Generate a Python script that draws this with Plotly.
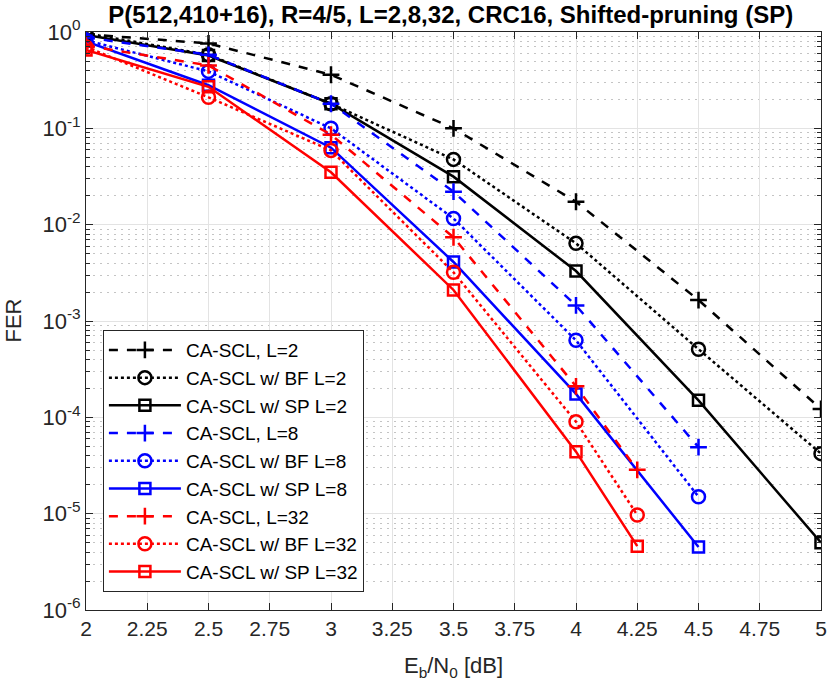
import plotly.graph_objects as go

# Eb/N0 points (dB)
snr_l2 = [2, 2.5, 3, 3.5, 4, 4.5, 5]
snr_l8 = [2, 2.5, 3, 3.5, 4, 4.5]
snr_l32 = [2, 2.5, 3, 3.5, 4, 4.25]

# FER, L=2
fer_scl_l2 = [0.95, 0.76, 0.36, 0.10, 0.0173, 1.65e-3, 1.22e-4]
fer_bf_l2 = [0.97, 0.58, 0.18, 0.0476, 0.0064, 5.1e-4, 4.2e-5]
fer_sp_l2 = [0.93, 0.57, 0.18, 0.0315, 0.0033, 1.5e-4, 5.0e-6]

# FER, L=8
fer_scl_l8 = [0.88, 0.58, 0.18, 0.022, 1.45e-3, 4.9e-5]
fer_bf_l8 = [0.82, 0.39, 0.10, 0.0116, 6.3e-4, 1.5e-5]
fer_sp_l8 = [0.80, 0.28, 0.063, 0.0041, 1.75e-4, 4.5e-6]

# FER, L=32
fer_scl_l32 = [0.72, 0.45, 0.086, 0.0074, 2.1e-4, 2.85e-5]
fer_bf_l32 = [0.70, 0.21, 0.059, 0.0032, 9.0e-5, 9.7e-6]
fer_sp_l32 = [0.65, 0.27, 0.035, 0.0021, 4.4e-5, 4.6e-6]

x_ticks = [2, 2.25, 2.5, 2.75, 3, 3.25, 3.5, 3.75, 4, 4.25, 4.5, 4.75, 5]
y_ticks = [1e-6, 1e-5, 1e-4, 1e-3, 1e-2, 1e-1, 1]
y_labels = ["10<sup>-6</sup>", "10<sup>-5</sup>", "10<sup>-4</sup>", "10<sup>-3</sup>",
            "10<sup>-2</sup>", "10<sup>-1</sup>", "10<sup>0</sup>"]

curves = [
    ("CA-SCL, L=2", snr_l2, fer_scl_l2, "black", "dash", "cross-thin-open"),
    ("CA-SCL w/ BF L=2", snr_l2, fer_bf_l2, "black", "dot", "circle-open"),
    ("CA-SCL w/ SP L=2", snr_l2, fer_sp_l2, "black", "solid", "square-open"),
    ("CA-SCL, L=8", snr_l8, fer_scl_l8, "blue", "dash", "cross-thin-open"),
    ("CA-SCL w/ BF L=8", snr_l8, fer_bf_l8, "blue", "dot", "circle-open"),
    ("CA-SCL w/ SP L=8", snr_l8, fer_sp_l8, "blue", "solid", "square-open"),
    ("CA-SCL, L=32", snr_l32, fer_scl_l32, "red", "dash", "cross-thin-open"),
    ("CA-SCL w/ BF L=32", snr_l32, fer_bf_l32, "red", "dot", "circle-open"),
    ("CA-SCL w/ SP L=32", snr_l32, fer_sp_l32, "red", "solid", "square-open"),
]
marker_size = {"cross-thin-open": 12, "circle-open": 13, "square-open": 11}

fig = go.Figure()
for name, x, y, col, dash, sym in curves:
    fig.add_trace(go.Scatter(
        x=x, y=y, name=name, mode="lines+markers",
        line=dict(color=col, width=2.5, dash=dash),
        marker=dict(symbol=sym, size=marker_size[sym], color=col,
                    line=dict(color=col, width=2.5)),
    ))

fig.update_layout(
    width=830, height=688,
    margin=dict(l=86, r=9, t=32, b=78),
    paper_bgcolor="white", plot_bgcolor="white",
    font=dict(family="Liberation Sans, Arial, sans-serif", size=22, color="#262626"),
    title=dict(text="<b>P(512,410+16), R=4/5, L=2,8,32, CRC16, Shifted-pruning (SP)</b>",
               x=0.543, xanchor="center", y=0.991, yanchor="top", pad=dict(t=0),
               font=dict(size=24, color="black")),
    legend=dict(x=0.023, y=0.031, xanchor="left", yanchor="bottom",
                bgcolor="white", bordercolor="#262626", borderwidth=1,
                font=dict(size=19, color="black"), tracegroupgap=0,
                itemwidth=72),
    showlegend=True,
    annotations=[dict(text="FER", xref="paper", yref="paper", x=-0.1, y=0.5,
                      xanchor="center", yanchor="middle", textangle=-90,
                      showarrow=False, font=dict(size=22, color="#262626"))],
)

fig.update_xaxes(
    range=[2, 5], tickvals=x_ticks, ticktext=[f"{v:g}" for v in x_ticks],
    tickfont=dict(size=21), automargin=False,
    showgrid=True, gridcolor="#e3e3e3", gridwidth=1,
    ticks="inside", ticklen=7, tickcolor="#262626",
    showline=True, linecolor="#262626", linewidth=1, mirror="ticks",
    zeroline=False,
    title=dict(text="E<sub>b</sub>/N<sub>0</sub> [dB]", standoff=18, font=dict(size=22)),
)

fig.update_yaxes(
    type="log", range=[-6, 0], tickvals=y_ticks, ticktext=y_labels,
    tickfont=dict(size=22), automargin=False,
    showgrid=True, gridcolor="#e3e3e3", gridwidth=1,
    ticks="inside", ticklen=7, tickcolor="#262626",
    showline=True, linecolor="#262626", linewidth=1, mirror="ticks",
    zeroline=False,
    minor=dict(dtick="D1", showgrid=True, gridcolor="#c4c4c4", griddash="2px,5px",
               ticks="inside", ticklen=4, tickcolor="#262626"),
)

# drop the default page margin so the figure sits at the window's corner
fig.write_html("out.html", config={"displayModeBar": False},
               post_script="document.body.style.margin='0';")
